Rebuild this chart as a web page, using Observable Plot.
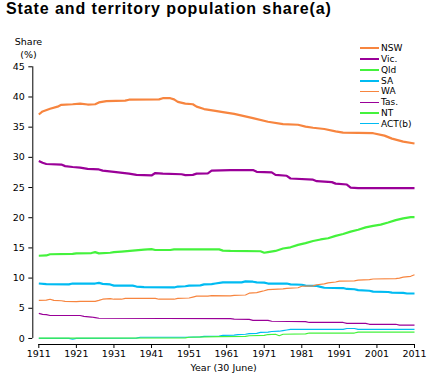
<!DOCTYPE html>
<html><head><meta charset="utf-8">
<script src="https://cdn.jsdelivr.net/npm/d3@7"></script>
<script src="https://cdn.jsdelivr.net/npm/@observablehq/plot@0.6"></script>
<style>
body{margin:0;background:#fff;font-family:"DejaVu Sans",sans-serif;}
#wrap{position:relative;width:438px;height:378px;overflow:hidden;background:#fff}
#title{height:28px;line-height:28px;padding-left:6px;font:bold 16px "Liberation Sans",Arial,sans-serif;letter-spacing:0.9px;white-space:nowrap;color:#000}
#legend{position:absolute;left:360px;top:43px;font:9px "DejaVu Sans",sans-serif;color:#000}
.row{height:10.77px;display:flex;align-items:center;white-space:nowrap}
.sw{width:19px;margin-right:2px;flex:none}
</style></head><body>
<div id="wrap"><div id="title">State and territory population share(a)</div><div id="chart"></div><div id="legend"></div></div>
<script>
// ---- data (year, share %) ----
const nsw = [[1911,37.1],[1912,37.6],[1914,38.05],[1916,38.4],[1917,38.7],[1920,38.8],[1922,38.9],[1924,38.75],[1926,38.8],[1927,39.1],[1929,39.3],[1934,39.4],[1935,39.55],[1943,39.6],[1944,39.8],[1946,39.8],[1947,39.6],[1948,39.2],[1950,38.9],[1952,38.8],[1953,38.4],[1955,38.0],[1958,37.7],[1960,37.5],[1963,37.2],[1968,36.5],[1972,35.9],[1976,35.5],[1980,35.4],[1982,35.1],[1984,34.9],[1987,34.7],[1990,34.3],[1992,34.1],[2000,34.0],[2003,33.6],[2005,33.1],[2008,32.6],[2011,32.3]];
const vic = [[1911,29.4],[1912,29.1],[1913,28.9],[1917,28.8],[1918,28.55],[1920,28.4],[1922,28.3],[1924,28.1],[1927,28.0],[1928,27.8],[1931,27.6],[1935,27.3],[1937,27.1],[1941,27.0],[1942,27.4],[1944,27.3],[1949,27.2],[1950,27.05],[1952,27.1],[1953,27.3],[1956,27.35],[1957,27.8],[1962,27.9],[1968,27.9],[1969,27.6],[1973,27.5],[1974,27.1],[1977,26.95],[1978,26.5],[1984,26.3],[1985,26.05],[1989,25.9],[1990,25.65],[1993,25.5],[1994,25.0],[1996,24.9],[2011,24.9]];
const qld = [[1911,13.7],[1913,13.75],[1914,13.95],[1920,14.0],[1921,14.1],[1925,14.15],[1926,14.3],[1927,14.1],[1930,14.2],[1931,14.3],[1933,14.4],[1936,14.55],[1939,14.7],[1941,14.8],[1942,14.65],[1946,14.65],[1947,14.75],[1959,14.75],[1960,14.55],[1962,14.5],[1970,14.45],[1971,14.2],[1972,14.3],[1974,14.5],[1976,14.9],[1978,15.1],[1980,15.5],[1982,15.8],[1984,16.15],[1986,16.4],[1988,16.6],[1990,17.0],[1992,17.3],[1994,17.7],[1996,18.0],[1998,18.4],[2000,18.65],[2002,18.85],[2004,19.2],[2006,19.6],[2008,19.9],[2010,20.1],[2011,20.1]];
const sa = [[1911,9.1],[1913,9.0],[1919,8.95],[1920,9.1],[1926,9.1],[1927,9.2],[1928,9.05],[1930,8.95],[1931,8.75],[1936,8.75],[1937,8.6],[1939,8.5],[1947,8.45],[1948,8.6],[1950,8.65],[1951,8.75],[1954,8.8],[1955,8.95],[1957,9.0],[1958,9.1],[1960,9.3],[1965,9.3],[1966,9.45],[1968,9.4],[1969,9.3],[1971,9.25],[1972,9.1],[1977,9.1],[1978,8.95],[1981,8.9],[1982,8.75],[1985,8.7],[1986,8.55],[1987,8.4],[1992,8.35],[1993,8.2],[1995,8.15],[1996,8.0],[1999,7.9],[2000,7.75],[2004,7.7],[2005,7.6],[2008,7.55],[2009,7.45],[2011,7.45]];
const wa = [[1911,6.3],[1913,6.35],[1914,6.5],[1915,6.3],[1917,6.25],[1918,6.15],[1921,6.1],[1922,6.15],[1926,6.15],[1927,6.3],[1928,6.5],[1930,6.6],[1931,6.5],[1933,6.5],[1934,6.65],[1942,6.65],[1943,6.5],[1947,6.5],[1948,6.65],[1951,6.7],[1952,6.85],[1953,7.0],[1956,7.0],[1957,7.1],[1962,7.05],[1963,7.15],[1966,7.2],[1967,7.5],[1969,7.6],[1970,7.75],[1971,7.9],[1972,8.1],[1976,8.2],[1977,8.3],[1980,8.4],[1981,8.65],[1984,8.7],[1985,8.9],[1987,9.05],[1988,9.2],[1990,9.35],[1991,9.5],[1995,9.55],[1996,9.65],[1999,9.75],[2000,9.85],[2006,9.9],[2007,10.0],[2008,10.15],[2010,10.3],[2011,10.55]];
const tas = [[1911,4.15],[1912,4.0],[1913,3.95],[1914,3.8],[1922,3.8],[1923,3.65],[1925,3.55],[1926,3.45],[1927,3.35],[1962,3.3],[1963,3.2],[1967,3.15],[1968,3.0],[1972,3.0],[1973,2.85],[1982,2.8],[1983,2.65],[1992,2.65],[1993,2.5],[1998,2.5],[1999,2.35],[2006,2.35],[2007,2.2],[2011,2.2]];
const nt = [[1911,0.05],[1950,0.1],[1951,0.2],[1959,0.3],[1966,0.35],[1967,0.45],[1971,0.5],[1972,0.65],[1974,0.7],[1975,0.45],[1976,0.7],[1982,0.75],[1983,0.9],[1995,0.9],[1996,1.05],[2011,1.05]];
const act = [[1911,0.0],[1919,0.0],[1920,-0.1],[1921,0.0],[1937,0.05],[1938,0.2],[1950,0.2],[1954,0.25],[1955,0.35],[1959,0.4],[1960,0.5],[1963,0.55],[1964,0.65],[1966,0.7],[1967,0.8],[1969,0.85],[1970,1.0],[1972,1.05],[1973,1.15],[1975,1.2],[1976,1.3],[1977,1.4],[1978,1.5],[1992,1.5],[1993,1.65],[1995,1.65],[1996,1.5],[2011,1.5]];

const seriesNames = ["NSW","Vic.","Qld","SA","WA","Tas.","NT","ACT(b)"];
const seriesValues = [nsw, vic, qld, sa, wa, tas, nt, act];
const xTicks = [1911,1921,1931,1941,1951,1961,1971,1981,1991,2001,2011];
const yTicks = [0,5,10,15,20,25,30,35,40,45];

// ---- styles ----
const seriesColors = ["#F7853F","#9A0098","#44F23C","#00BBF2","#F7853F","#9A0098","#44F23C","#00BBF2"];
const seriesWidths = [2.2,2.2,2.2,2.2,1.2,1.2,1.2,1.2];
const drawOrder = [0,1,2,3,4,5,7,6];

const rows = seriesNames.flatMap((name, i) => seriesValues[i].map(([year, share]) => ({series: name, year, share})));

const xMin = 1909.4, xMax = 2011, yMin = -1, yMax = 45;

const lineMarks = drawOrder.map(i => Plot.line(rows.filter(d => d.series === seriesNames[i]), {
  x: "year", y: "share", stroke: seriesColors[i], strokeWidth: seriesWidths[i], strokeLinejoin: "miter", strokeLinecap: "butt"
}));

const chart = Plot.plot({
  width: 438, height: 350,
  marginLeft: 32.3, marginRight: 24, marginTop: 38.3, marginBottom: 34,
  style: {fontFamily: "'DejaVu Sans', sans-serif", fontSize: "9.5px", color: "#000", background: "#fff", overflow: "visible"},
  x: {domain: [xMin, xMax]},
  y: {domain: [yMin, yMax]},
  marks: [
    Plot.ruleX([xMin], {y1: yTicks[0], y2: yMax, stroke: "#000"}),
    Plot.ruleY([yMin], {x1: xTicks[0], x2: xTicks[xTicks.length - 1], stroke: "#000"}),
    Plot.axisY({ticks: yTicks, tickSize: 4, tickPadding: 4, label: null, stroke: "#000", fill: "#000"}),
    Plot.axisX({ticks: xTicks, tickSize: 4, tickPadding: 2, tickFormat: d => String(d), label: null, stroke: "#000", fill: "#000"}),
    Plot.text(["Share\n(%)"], {text: d => d, frameAnchor: "top-left", dx: -4.3, dy: -19.8, lineAnchor: "middle", lineHeight: 1.4, textAnchor: "middle", fill: "#000"}),
    Plot.text(["Year (30 June)"], {text: d => d, frameAnchor: "bottom", dy: 23, lineAnchor: "middle", fill: "#000"}),
    ...lineMarks
  ]
});
document.getElementById("chart").append(chart);

const legend = document.getElementById("legend");
seriesNames.forEach((name, i) => {
  const row = document.createElement("div");
  row.className = "row";
  const sw = document.createElement("span");
  sw.className = "sw";
  sw.style.height = seriesWidths[i] + "px";
  sw.style.background = seriesColors[i];
  const t = document.createElement("span");
  t.textContent = name;
  row.append(sw, t);
  legend.append(row);
});
</script>
</body></html>
